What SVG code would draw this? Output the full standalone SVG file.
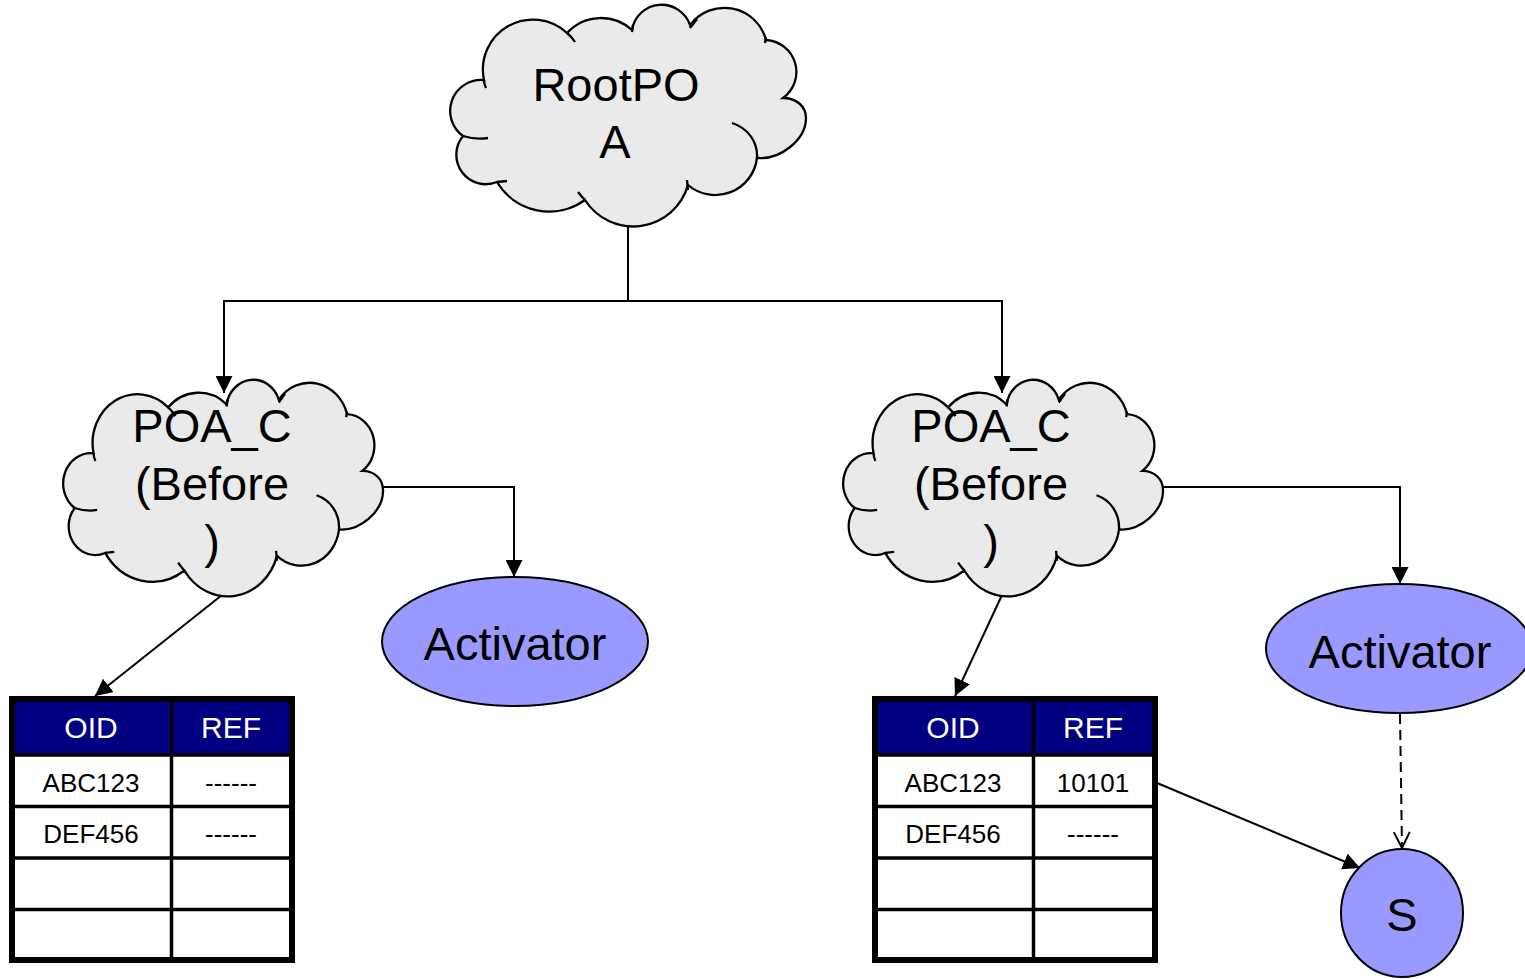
<svg xmlns="http://www.w3.org/2000/svg" xmlns:xlink="http://www.w3.org/1999/xlink" width="1525" height="979" viewBox="0 0 1525 979">
<style>
.cloud{fill:#EAEAEA;stroke:#000;stroke-width:2.3;vector-effect:non-scaling-stroke}
.tail{fill:none;stroke:#000;stroke-width:2.3;vector-effect:non-scaling-stroke}
.big{font-family:"Liberation Sans",Arial,sans-serif;font-size:47px;fill:#000;text-anchor:middle}
.ell{fill:#9999FF;stroke:#000;stroke-width:2}
.hdr{font-family:"Liberation Sans",Arial,sans-serif;font-size:30px;fill:#fff;text-anchor:middle}
.cell{font-family:"Liberation Sans",Arial,sans-serif;font-size:26px;fill:#000;text-anchor:middle}
.conn{fill:none;stroke:#000;stroke-width:2}
.grid{stroke:#000;stroke-width:3.5}
</style>
<defs>
<marker id="arr" markerUnits="userSpaceOnUse" markerWidth="17" markerHeight="17" refX="17" refY="8.5" orient="auto">
<path d="M0,0 L17,8.5 L0,17 z" fill="#000"/>
</marker>
<marker id="open" markerUnits="userSpaceOnUse" markerWidth="20" markerHeight="20" refX="17" refY="10" orient="auto">
<path d="M1,2 L17,10 L1,18" fill="none" stroke="#000" stroke-width="2"/>
</marker>
<g id="cloudShape">
<path class="cloud" d="M463,136 A31,31 0 0 1 484,80 A50,50 0 0 1 567,33 A46,46 0 0 1 632,30 A30,30 0 0 1 690,25 A43,43 0 0 1 766,40 A32,32 0 0 1 783,98 C796,98 806,106 806,118 C806,140 780,160 757,158 A42,42 0 0 1 688,185 A57,57 0 0 1 585,200 A61,61 0 0 1 497,182 A29.5,29.5 0 0 1 463,136 Z"/>
<path class="tail" d="M463,136 Q476,140 488,138 M484,80 Q484,84 486,88 M567,33 Q572,37 575,42 M633,25 L632,32 M690,28 L697,19 M766,37 L765,43 M732,123 C748,128 758,142 757,158 M688,190 L687,180 M585,200 Q581,196 578,192 M497,182 L507,181"/>
</g>
</defs>

<g id="connectors">
<path class="conn" d="M628,224 V301 H224 V393" marker-end="url(#arr)"/>
<path class="conn" d="M628,301 H1002 V393" marker-end="url(#arr)"/>
<path class="conn" d="M383,487 H514 V577" marker-end="url(#arr)"/>
<path class="conn" d="M1162,487 H1400 V584" marker-end="url(#arr)"/>
<path class="conn" d="M222,595 L95,696" marker-end="url(#arr)"/>
<path class="conn" d="M1002,595 L955,696" marker-end="url(#arr)"/>
<path class="conn" d="M1157,783 L1360,868" marker-end="url(#arr)"/>
<path class="conn" d="M1400,714 L1402,848" stroke-dasharray="10,6" marker-end="url(#open)"/>
</g>

<g id="rootpoa">
<use xlink:href="#cloudShape"/>
<text class="big" x="616" y="101" font-size="48">RootPO</text>
<text class="big" x="615" y="158" font-size="48">A</text>
</g>

<g id="poa-left">
<use xlink:href="#cloudShape" transform="translate(63,380) scale(0.899,0.977) translate(-450,-5)"/>
<text class="big" x="212" y="442">POA_C</text>
<text class="big" x="212" y="500">(Before</text>
<text class="big" x="212" y="558">)</text>
</g>

<g id="poa-right">
<use xlink:href="#cloudShape" transform="translate(843,380) scale(0.899,0.977) translate(-450,-5)"/>
<text class="big" x="991" y="442">POA_C</text>
<text class="big" x="991" y="500">(Before</text>
<text class="big" x="991" y="558">)</text>
</g>

<g id="activator-left">
<ellipse class="ell" cx="515" cy="641.5" rx="133" ry="64.5"/>
<text class="big" x="515" y="660">Activator</text>
</g>

<g id="activator-right">
<ellipse class="ell" cx="1399" cy="648.5" rx="133" ry="64.5"/>
<text class="big" x="1400" y="668">Activator</text>
</g>

<g id="servant">
<ellipse class="ell" cx="1402" cy="913" rx="61" ry="64"/>
<text class="big" x="1402" y="931">S</text>
</g>

<g id="table-left">
<rect x="12" y="699" width="280" height="261" fill="#fff"/>
<rect x="12" y="699" width="280" height="56" fill="#000080"/>
<line class="grid" x1="12" y1="755" x2="292" y2="755"/>
<line class="grid" x1="12" y1="806.5" x2="292" y2="806.5"/>
<line class="grid" x1="12" y1="858" x2="292" y2="858"/>
<line class="grid" x1="12" y1="909.5" x2="292" y2="909.5"/>
<line class="grid" x1="171.5" y1="699" x2="171.5" y2="960"/>
<rect x="12" y="699" width="280" height="261" fill="none" stroke="#000" stroke-width="6"/>
<text class="hdr" x="91" y="738">OID</text>
<text class="hdr" x="231" y="738">REF</text>
<text class="cell" x="91" y="792">ABC123</text>
<text class="cell" x="231" y="792">------</text>
<text class="cell" x="91" y="843">DEF456</text>
<text class="cell" x="231" y="843">------</text>
</g>

<g id="table-right">
<rect x="875" y="699" width="280" height="261" fill="#fff"/>
<rect x="875" y="699" width="280" height="56" fill="#000080"/>
<line class="grid" x1="875" y1="755" x2="1155" y2="755"/>
<line class="grid" x1="875" y1="806.5" x2="1155" y2="806.5"/>
<line class="grid" x1="875" y1="858" x2="1155" y2="858"/>
<line class="grid" x1="875" y1="909.5" x2="1155" y2="909.5"/>
<line class="grid" x1="1033.5" y1="699" x2="1033.5" y2="960"/>
<rect x="875" y="699" width="280" height="261" fill="none" stroke="#000" stroke-width="6"/>
<text class="hdr" x="953" y="738">OID</text>
<text class="hdr" x="1093" y="738">REF</text>
<text class="cell" x="953" y="792">ABC123</text>
<text class="cell" x="1093" y="792">10101</text>
<text class="cell" x="953" y="843">DEF456</text>
<text class="cell" x="1093" y="843">------</text>
</g>
</svg>
